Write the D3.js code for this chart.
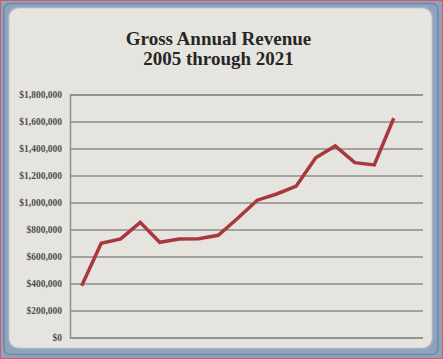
<!DOCTYPE html>
<html>
<head>
<meta charset="utf-8">
<script src="https://cdn.jsdelivr.net/npm/d3@7"></script>
<style>
html,body{margin:0;padding:0;background:#8fa3bd;}
svg{display:block;}
</style>
</head>
<body>
<svg id="chart" width="443" height="359"></svg>
<script>
const titleLines = ["Gross Annual Revenue", "2005 through 2021"];
const years = [2005,2006,2007,2008,2009,2010,2011,2012,2013,2014,2015,2016,2017,2018,2019,2020,2021];
const revenue = [384000,698000,730000,853000,705000,730000,732000,757000,883000,1017000,1063000,1122000,1332000,1419000,1295000,1278000,1624000];
const yTicks = [0,200000,400000,600000,800000,1000000,1200000,1400000,1600000,1800000];

const svg = d3.select("#chart");
// frame
svg.append("rect").attr("x",0).attr("y",0).attr("width",443).attr("height",359).attr("fill","#8ea2bd");
svg.append("rect").attr("x",0.5).attr("y",0.5).attr("width",442).attr("height",358)
  .attr("fill","none").attr("stroke","#d45a66").attr("stroke-width",1);
svg.append("rect").attr("x",4).attr("y",3.5).attr("width",434).attr("height",351).attr("rx",6)
  .attr("fill","none").attr("stroke","#6f88a8").attr("stroke-width",1.5);
svg.append("rect").attr("x",8.5).attr("y",7.5).attr("width",424).attr("height",341).attr("rx",10)
  .attr("fill","#e6e4de").attr("stroke","#a7b3c3").attr("stroke-width",1.5);

const x = d3.scaleLinear().domain([2004.4, 2022.5]).range([70, 423]);
const y = d3.scaleLinear().domain([0, 1800000]).range([337.5, 94.5]);

// title
svg.append("g").selectAll("text").data(titleLines).join("text")
  .attr("x", 218.5).attr("y",(d,i)=>45+i*20)
  .attr("text-anchor","middle")
  .attr("font-family","'Liberation Serif', serif").attr("font-weight","bold")
  .attr("font-size",19).attr("fill","#262626").text(d=>d);

// y axis with gridlines
const yAxis = d3.axisLeft(y).tickValues(yTicks)
  .tickFormat(d=>"$"+d3.format(",")(d))
  .tickSize(-(423-70)).tickPadding(8);
const ga = svg.append("g").attr("transform","translate(70,0)").call(yAxis);
ga.select(".domain").attr("stroke","#8d8d8b").attr("stroke-width",1.5);
ga.selectAll(".tick line").attr("stroke","#8d8d8b").attr("stroke-width",1.5);
ga.selectAll(".tick text").attr("font-family","'Liberation Serif', serif")
  .attr("font-weight","bold").attr("font-size",9.5).attr("fill","#4f4f4f");

// line
const line = d3.line().x((d,i)=>x(years[i])).y(d=>y(d));
svg.append("path").datum(revenue).attr("d",line)
  .attr("fill","none").attr("stroke","#a8383d").attr("stroke-width",3.5)
  .attr("stroke-linejoin","miter").attr("stroke-linecap","butt");
</script>
</body>
</html>
